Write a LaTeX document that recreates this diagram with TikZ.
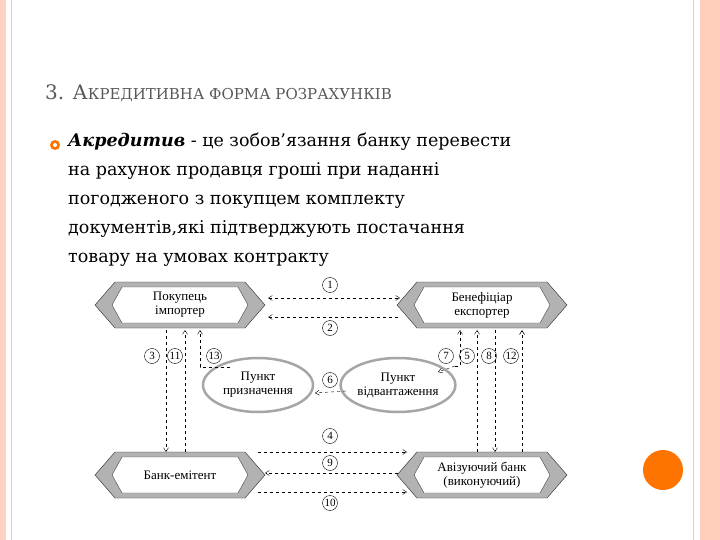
\documentclass[tikz,border=0pt]{standalone}
\usepackage{fontspec}
\setmainfont{DejaVu Serif}
\newfontfamily\dfont{Liberation Serif}
\usetikzlibrary{arrows.meta,shapes.geometric}
\begin{document}
\begin{tikzpicture}[x=1pt,y=-1pt,
  lbl/.style={font=\dfont\fontsize{13}{14}\selectfont, align=center, inner sep=0pt},
  num/.style={circle,draw,inner sep=0.5pt,minimum size=15pt,font=\dfont\fontsize{11}{11}\selectfont},
  dl/.style={dashed,thin,-{Straight Barb[length=4pt,width=5pt]}},
  ell/.style={ellipse,draw=gray!70,line width=2.5pt,fill=white,minimum width=110pt,minimum height=54pt}]
\useasboundingbox (0,0) rectangle (720,540);
\fill[white] (0,0) rectangle (720,540);
\fill[orange!20!pink!60] (0,0) rectangle (6,540);
\draw[orange!40,line width=1pt] (11,0)--(11,540);
\fill[orange!25!pink!60] (700,0) rectangle (720,540);
\draw[orange!40,line width=1pt] (693,0)--(693,540);
\fill[orange!90!red] (663,470) circle (20);
\node[anchor=base west,text=gray!70!black,inner sep=0pt] (title) at (45,100)
 {\fontsize{20}{24}\selectfont 3. А\fontsize{15}{18}\selectfont КРЕДИТИВНА ФОРМА РОЗРАХУНКІВ};
\fill[orange!90!red] (55,145) circle (5);
\fill[white] (55,145) circle (2);
\node[anchor=north west,align=left,inner sep=0pt,font=\fontsize{17.5}{29}\selectfont] (txt) at (68,133)
 {\textbf{\textit{Акредитив}} - це зобов'язання банку перевести\\ на рахунок продавця гроші при наданні\\ погодженого з покупцем комплекту\\ документів,які підтверджують постачання\\ товару на умовах контракту};
% hexagons
\foreach \n/\cx/\cy/\t in {imp/180/305/{Покупець\\імпортер},ben/482/305/{Бенефіціар\\експортер},em/180/475/{Банк-емітент},av/482/475/{Авізуючий банк\\(виконуючий)}}{
  \fill[gray!60] (\cx-85,\cy)--(\cx-65,\cy-23)--(\cx+65,\cy-23)--(\cx+85,\cy)--(\cx+65,\cy+23)--(\cx-65,\cy+23)--cycle;
  \draw[gray!30!black,thin] (\cx-85,\cy)--(\cx-65,\cy-23)--(\cx+65,\cy-23)--(\cx+85,\cy)--(\cx+65,\cy+23)--(\cx-65,\cy+23)--cycle;
  \fill[white] (\cx-68,\cy)--(\cx-58,\cy-18)--(\cx+58,\cy-18)--(\cx+68,\cy)--(\cx+58,\cy+18)--(\cx-58,\cy+18)--cycle;
  \draw[gray!50!black] (\cx-68,\cy)--(\cx-58,\cy-18)--(\cx+58,\cy-18)--(\cx+68,\cy)--(\cx+58,\cy+18)--(\cx-58,\cy+18)--cycle;
  \node[lbl] (\n) at (\cx,\cy) {\t};
}
\node[ell,lbl] (pp) at (258,385) {Пункт\\призначення};
\node[ell,lbl] (pv) at (398,385) {Пункт\\відвантаження};
% arrows
\draw[dl,{Straight Barb[length=4pt,width=5pt]}-{Straight Barb[length=4pt,width=5pt]}] (268,298)--(400,298);
\draw[dl] (398,317)--(268,317);
\draw[dl] (166,330)--(166,452);
\draw[dl] (185,452)--(185,330);
\draw[dl] (230,367)--(200,367)--(200,330);
\draw[dl] (455,366)--(460,366)--(460,330);
\draw[dl] (455,366)--(438,372);
\draw[dl] (477,452)--(477,330);
\draw[dl] (495,330)--(495,452);
\draw[dl,semithick] (522,452)--(522,330);
\draw[dl] (346,391)--(315,393);
\draw[dl] (258,452)--(407,452);
\draw[dl] (398,473)--(265,473);
\draw[dl] (258,492)--(407,492);
\foreach \k/\x/\y in {1/330/285,2/330/328,3/152/356,11/175/356,13/214/356,7/446/356,5/467/356,8/489/356,12/511/356,6/330/380,4/330/436,9/330/463,10/330/503}
  \node[num] (n\k) at (\x,\y) {\k};
\end{tikzpicture}
\end{document}
